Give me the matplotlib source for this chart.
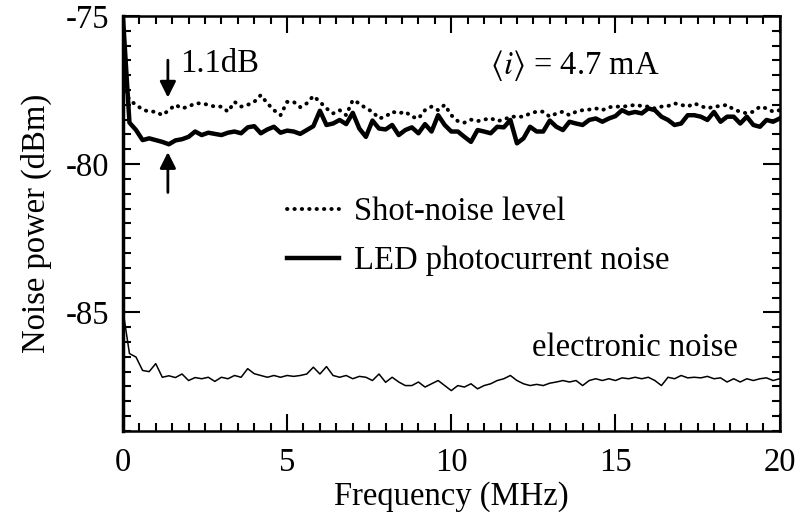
import numpy as np
import matplotlib
matplotlib.use('Agg')
import matplotlib.pyplot as plt

plt.rcParams['font.family'] = ['Liberation Serif', 'DejaVu Serif']
plt.rcParams['mathtext.fontset'] = 'stix'
plt.rcParams['axes.unicode_minus'] = False

# frequency grid (MHz), 0.2 MHz steps
freq = [0.0, 0.2, 0.4, 0.6, 0.8, 1.0, 1.2, 1.4, 1.6, 1.8,
        2.0, 2.2, 2.4, 2.6, 2.8, 3.0, 3.2, 3.4, 3.6, 3.8,
        4.0, 4.2, 4.4, 4.6, 4.8, 5.0, 5.2, 5.4, 5.6, 5.8,
        6.0, 6.2, 6.4, 6.6, 6.8, 7.0, 7.2, 7.4, 7.6, 7.8,
        8.0, 8.2, 8.4, 8.6, 8.8, 9.0, 9.2, 9.4, 9.6, 9.8,
        10.0, 10.2, 10.4, 10.6, 10.8, 11.0, 11.2, 11.4, 11.6, 11.8,
        12.0, 12.2, 12.4, 12.6, 12.8, 13.0, 13.2, 13.4, 13.6, 13.8,
        14.0, 14.2, 14.4, 14.6, 14.8, 15.0, 15.2, 15.4, 15.6, 15.8,
        16.0, 16.2, 16.4, 16.6, 16.8, 17.0, 17.2, 17.4, 17.6, 17.8,
        18.0, 18.2, 18.4, 18.6, 18.8, 19.0, 19.2, 19.4, 19.6, 19.8,
        20.0]

# shot-noise level (dBm)
shot = [-77.3, -77.84, -78.0, -78.16, -78.23, -78.23, -78.35, -78.18, -78.0, -78.12,
        -78.06, -77.95, -77.95, -78.0, -78.06, -78.06, -78.23, -77.9, -78.06, -78.0,
        -77.9, -77.67, -77.95, -78.18, -78.35, -77.9, -77.9, -78.08, -77.95, -77.7,
        -77.9, -78.12, -78.29, -78.18, -78.35, -77.84, -77.95, -78.12, -78.23, -78.46,
        -78.4, -78.23, -78.29, -78.23, -78.4, -78.46, -78.18, -78.06, -78.18, -78.0,
        -78.35, -78.55, -78.6, -78.5, -78.55, -78.5, -78.45, -78.55, -78.5, -78.4,
        -78.4, -78.4, -78.29, -78.23, -78.23, -78.4, -78.29, -78.23, -78.35, -78.23,
        -78.18, -78.16, -78.12, -78.18, -78.08, -78.06, -78.06, -78.04, -78.0, -78.04,
        -78.06, -78.12, -78.06, -78.04, -77.95, -78.0, -78.06, -77.95, -78.04, -78.12,
        -78.06, -78.04, -78.0, -78.16, -78.23, -78.29, -78.23, -78.06, -78.12, -78.23,
        -78.18]

# LED photocurrent noise (dBm)
led = [-75.0, -78.6, -78.85, -79.19, -79.13, -79.19, -79.25, -79.33, -79.2, -79.16,
       -79.08, -78.9, -79.02, -78.94, -78.98, -79.02, -78.94, -78.9, -78.96, -78.76,
       -78.72, -78.96, -78.83, -78.74, -78.94, -78.87, -78.9, -78.98, -78.85, -78.72,
       -78.2, -78.68, -78.63, -78.51, -78.65, -78.27, -78.8, -79.08, -78.53, -78.8,
       -78.83, -78.68, -79.02, -78.85, -78.76, -78.96, -78.65, -78.9, -78.35, -78.68,
       -78.9, -78.9, -79.08, -79.25, -78.85, -78.9, -78.96, -78.74, -78.76, -78.51,
       -79.3, -79.13, -78.74, -78.9, -78.9, -78.53, -78.74, -78.85, -78.57, -78.63,
       -78.68, -78.51, -78.46, -78.57, -78.46, -78.38, -78.18, -78.29, -78.24, -78.29,
       -78.12, -78.18, -78.4, -78.51, -78.68, -78.63, -78.35, -78.35, -78.4, -78.51,
       -78.24, -78.57, -78.4, -78.4, -78.63, -78.4, -78.68, -78.74, -78.51, -78.57,
       -78.46]

# electronic noise (dBm)
elec = [-84.93, -86.39, -86.51, -86.96, -87.0, -86.73, -87.19, -87.14, -87.2, -87.08,
        -87.3, -87.2, -87.24, -87.19, -87.33, -87.19, -87.24, -87.13, -87.19, -86.9,
        -87.07, -87.13, -87.19, -87.13, -87.19, -87.13, -87.16, -87.13, -87.08, -86.85,
        -87.08, -86.83, -87.13, -87.19, -87.13, -87.24, -87.16, -87.19, -87.3, -87.08,
        -87.36, -87.19, -87.35, -87.47, -87.47, -87.35, -87.52, -87.41, -87.3, -87.47,
        -87.64, -87.47, -87.52, -87.41, -87.58, -87.47, -87.41, -87.3, -87.24, -87.13,
        -87.3, -87.41, -87.47, -87.43, -87.47, -87.39, -87.35, -87.3, -87.35, -87.3,
        -87.47, -87.3, -87.24, -87.3, -87.24, -87.3, -87.21, -87.24, -87.19, -87.24,
        -87.19, -87.3, -87.47, -87.19, -87.24, -87.13, -87.21, -87.19, -87.21, -87.16,
        -87.24, -87.21, -87.35, -87.24, -87.35, -87.24, -87.3, -87.24, -87.21, -87.3,
        -87.24]

fs = 23.5

fig = plt.figure(figsize=(7.98, 5.13), dpi=100)
ax = fig.add_axes([0.154, 0.160, 0.823, 0.809])

l_shot, = ax.plot(freq, shot, color='k', lw=2.8, linestyle=(0, (0.1, 1.8)),
                  dash_capstyle='round', label='Shot-noise level')
l_led, = ax.plot(freq, led, color='k', lw=3.2, label='LED photocurrent noise')
ax.plot(freq, elec, color='k', lw=1.1)

ax.set_xlim(0, 20)
ax.set_ylim(-89, -75)
ax.set_xticks([0, 5, 10, 15, 20])
ax.set_xticks(np.arange(0, 20.01, 0.5), minor=True)
ax.set_yticks([-75, -80, -85])
ax.set_yticks(np.arange(-89, -74.9, 0.5), minor=True)
ax.tick_params(which='both', direction='in', top=True, right=True, width=1.5,
               labelsize=fs, colors='k')
ax.tick_params(which='major', length=12)
ax.tick_params(which='minor', length=6)
ax.tick_params(axis='x', pad=12)
ax.tick_params(axis='y', pad=10)
for s in ax.spines.values():
    s.set_linewidth(1.8)
ax.spines['left'].set_linewidth(2.5)

ax.set_xlabel('Frequency (MHz)', fontsize=fs, labelpad=2)
ax.set_ylabel('Noise power (dBm)', fontsize=fs, labelpad=10)

ax.legend(handles=[l_shot, l_led], loc='upper left', bbox_to_anchor=(0.25, 0.565),
          frameon=False, fontsize=fs, handlelength=1.6, handletextpad=0.45,
          labelspacing=0.57, borderpad=0, borderaxespad=0)

# 1.1 dB gap markers
ax.text(1.74, -76.6, '1.1dB', fontsize=fs, ha='left', va='center')
ax.annotate('', xy=(1.37, -77.85), xytext=(1.37, -76.4),
            arrowprops=dict(arrowstyle='-|>', lw=2, color='k', mutation_scale=24))
ax.annotate('', xy=(1.37, -79.5), xytext=(1.37, -81.05),
            arrowprops=dict(arrowstyle='-|>', lw=2, color='k', mutation_scale=24))
ax.text(11.17, -76.66, r'$\langle i\rangle$ = 4.7 mA', fontsize=fs, ha='left', va='center')
ax.text(12.45, -86.18, 'electronic noise', fontsize=fs, ha='left', va='center')

fig.savefig('out.png', dpi=100)
